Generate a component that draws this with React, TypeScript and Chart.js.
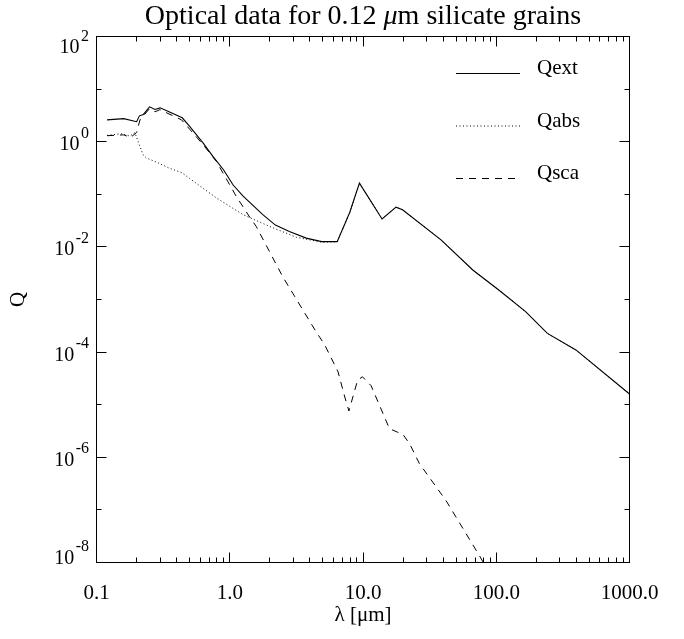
import React, { useEffect, useRef } from 'react';
import { Chart, registerables } from 'chart.js';

Chart.register(...registerables);

// ---------- data ----------
const titleParts = ['Optical data for 0.12 ', '\u03bc', 'm silicate grains'];
const titleItalic = [false, true, false];
const xAxisTitle = '\u03bb [\u03bcm]';
const yAxisTitle = 'Q';

const qextLambda = [0.12, 0.16, 0.2, 0.21, 0.225, 0.25, 0.275, 0.3, 0.35, 0.44, 0.5, 0.63, 0.75, 0.9, 1.06, 1.26, 1.77, 2.2, 2.8, 3.75, 4.9, 6.4, 7.95, 9.4, 13.9, 17.7, 19.8, 38.5, 67, 105, 166, 242, 396, 1000];
const qextValues = [2.6, 2.75, 2.4, 3.1, 3.3, 4.6, 4.1, 4.4, 3.7, 2.85, 1.96, 0.95, 0.52, 0.29, 0.15, 0.092, 0.041, 0.026, 0.0196, 0.0147, 0.0126, 0.0126, 0.045, 0.163, 0.034, 0.057, 0.0507, 0.0136, 0.0036, 0.0015, 5.9e-4, 2.27e-4, 1.1e-4, 1.6e-5];

const qabsLambda = [0.12, 0.154, 0.178, 0.194, 0.224, 0.237, 0.282, 0.355, 0.435, 0.5, 0.795, 1.26, 1.99, 3.17, 4.9, 6.4, 7.95, 9.4, 13.9, 17.7, 19.8, 38.5, 67, 105, 166, 242, 396, 1000];
const qabsValues = [1.32, 1.42, 1.28, 1.48, 0.56, 0.49, 0.41, 0.31, 0.26, 0.2, 0.085, 0.041, 0.0245, 0.0152, 0.0123, 0.0125, 0.045, 0.163, 0.034, 0.057, 0.0507, 0.0136, 0.0036, 0.0015, 5.9e-4, 2.27e-4, 1.1e-4, 1.6e-5];

const qscaLambda = [0.12, 0.16, 0.18, 0.2, 0.212, 0.249, 0.275, 0.299, 0.435, 0.63, 0.795, 1.12, 1.41, 1.58, 2.5, 4.46, 5.14, 6.5, 7.3, 7.84, 9.1, 9.9, 11.5, 15.8, 18.2, 19.8, 22.4, 26.5, 42, 74.6, 90];
const qscaValues = [1.3, 1.35, 1.2, 1.5, 2.6, 4.2, 3.7, 4.07, 2.6, 0.88, 0.42, 0.091, 0.037, 0.0245, 0.0027, 2.4e-4, 1.4e-4, 4.2e-5, 1.4e-5, 7.6e-6, 2.9e-5, 3.4e-5, 2.3e-5, 3.5e-6, 3.0e-6, 2.8e-6, 1.8e-6, 7.6e-7, 1.5e-7, 1.36e-8, 6e-9];

const seriesLabels = ['Qext', 'Qabs', 'Qsca'];

const xTickValues = [0.1, 1, 10, 100, 1000];
const xTickLabels = ['0.1', '1.0', '10.0', '100.0', '1000.0'];
const yTickExponents = [2, 0, -2, -4, -6, -8];
const yTickLabelBase = '10';

const SERIF = '"Liberation Serif", "Times New Roman", serif';

function toPoints(xs: number[], ys: number[]) {
  return xs.map((x, i) => ({ x, y: ys[i] }));
}

const framePlugin = {
  id: 'idlFrame',
  afterDatasetsDraw(chart: any) {
    const { ctx, chartArea: a, scales } = chart;
    const xs = scales.x;
    const ys = scales.y;
    ctx.save();
    ctx.strokeStyle = '#000';
    ctx.lineWidth = 1;
    ctx.setLineDash([]);
    ctx.strokeRect(a.left, a.top, a.right - a.left, a.bottom - a.top);

    ctx.beginPath();
    // x ticks (inward, top and bottom)
    for (let d = -1; d <= 3; d++) {
      for (let m = 1; m <= 9; m++) {
        const v = m * Math.pow(10, d);
        if (v < 0.1 - 1e-9 || v > 1000 + 1e-6) continue;
        const px = Math.round(xs.getPixelForValue(v) - 0.5) + 0.5;
        const len = m === 1 ? 10 : 5;
        ctx.moveTo(px, a.bottom);
        ctx.lineTo(px, a.bottom - len);
        ctx.moveTo(px, a.top);
        ctx.lineTo(px, a.top + len);
      }
    }
    // y ticks (inward, left and right)
    for (let e = -8; e <= 2; e++) {
      const py = Math.round(ys.getPixelForValue(Math.pow(10, e)) - 0.5) + 0.5;
      const len = e % 2 === 0 ? 10 : 5;
      ctx.moveTo(a.left, py);
      ctx.lineTo(a.left + len, py);
      ctx.moveTo(a.right, py);
      ctx.lineTo(a.right - len, py);
    }
    ctx.stroke();

    ctx.fillStyle = '#000';
    ctx.textAlign = 'left';

    // title (upright text with an italic mu), centred over the plot
    ctx.textBaseline = 'middle';
    const fonts = titleItalic.map((it) => `${it ? 'italic ' : ''}28px ${SERIF}`);
    const widths = titleParts.map((t, i) => {
      ctx.font = fonts[i];
      return ctx.measureText(t).width;
    });
    const total = widths.reduce((s, w) => s + w, 0);
    let tx = (a.left + a.right) / 2 - total / 2;
    titleParts.forEach((t, i) => {
      ctx.font = fonts[i];
      ctx.fillText(t, tx, 16.8);
      tx += widths[i];
    });

    // y tick labels with superscript exponents
    ctx.textBaseline = 'alphabetic';
    const rightEdge = a.left - 7.5;
    yTickExponents.forEach((e) => {
      const py = ys.getPixelForValue(Math.pow(10, e));
      let base = py + 8.5;
      base = Math.max(base, a.top + 16.5);
      base = Math.min(base, a.bottom + 1);
      const expText = String(e);
      ctx.font = `16px ${SERIF}`;
      const ew = ctx.measureText(expText).width;
      ctx.fillText(expText, rightEdge - ew, base - 12.5);
      ctx.font = `20px ${SERIF}`;
      const bw = ctx.measureText(yTickLabelBase).width;
      ctx.fillText(yTickLabelBase, rightEdge - ew - 1.5 - bw, base);
    });

    // legend inside the plot, top-right
    chart.data.datasets.forEach((ds: any, i: number) => {
      const ly = 73.5 + i * 52.5;
      ctx.beginPath();
      ctx.lineWidth = ds.borderWidth;
      ctx.setLineDash(ds.borderDash || []);
      ctx.moveTo(456, ly);
      ctx.lineTo(520, ly);
      ctx.stroke();
      ctx.setLineDash([]);
      ctx.font = `21px ${SERIF}`;
      ctx.fillText(ds.label, 537, ly + 0.5);
    });
    ctx.restore();
  },
};

export default function App() {
  const canvasRef = useRef<HTMLCanvasElement | null>(null);

  useEffect(() => {
    if (!canvasRef.current) return;
    const chart = new Chart(canvasRef.current, {
      type: 'line',
      data: {
        datasets: [
          {
            label: seriesLabels[0],
            data: toPoints(qextLambda, qextValues),
            borderColor: '#000',
            borderWidth: 1.1,
            borderDash: [],
            pointRadius: 0,
            tension: 0,
          },
          {
            label: seriesLabels[1],
            data: toPoints(qabsLambda, qabsValues),
            borderColor: '#000',
            borderWidth: 1,
            borderDash: [1, 2.5],
            pointRadius: 0,
            tension: 0,
          },
          {
            label: seriesLabels[2],
            data: toPoints(qscaLambda, qscaValues),
            borderColor: '#000',
            borderWidth: 1,
            borderDash: [7, 6],
            pointRadius: 0,
            tension: 0,
          },
        ],
      },
      options: {
        responsive: false,
        animation: false,
        devicePixelRatio: 1,
        layout: { padding: { left: 0, right: 54.5, top: 36.5, bottom: 11 } },
        plugins: {
          legend: { display: false },
          tooltip: { enabled: false },
          title: { display: false },
        },
        scales: {
          x: {
            type: 'logarithmic',
            min: 0.1,
            max: 1000,
            grid: { display: false, drawTicks: false },
            border: { display: false },
            afterBuildTicks: (scale: any) => {
              scale.ticks = xTickValues.map((v) => ({ value: v }));
            },
            afterFit: (scale: any) => {
              scale.height = 65.5;
            },
            ticks: {
              autoSkip: false,
              maxRotation: 0,
              minRotation: 0,
              padding: 18.5,
              color: '#000',
              font: { family: SERIF, size: 21 },
              callback: (value: any) => {
                const idx = xTickValues.findIndex((v) => Math.abs(v - Number(value)) < 1e-9 * Math.max(1, v));
                return idx >= 0 ? xTickLabels[idx] : '';
              },
            },
            title: {
              display: true,
              text: xAxisTitle,
              color: '#000',
              font: { family: SERIF, size: 21 },
              padding: { top: 0, bottom: 0 },
            },
          },
          y: {
            type: 'logarithmic',
            min: 1e-8,
            max: 100,
            grid: { display: false, drawTicks: false },
            border: { display: false },
            afterBuildTicks: (scale: any) => {
              scale.ticks = yTickExponents.map((e) => ({ value: Math.pow(10, e) }));
            },
            afterFit: (scale: any) => {
              scale.width = 96.5;
            },
            ticks: { display: false },
            title: {
              display: true,
              text: yAxisTitle,
              color: '#000',
              font: { family: SERIF, size: 21 },
              padding: { top: 6, bottom: 0 },
            },
          },
        },
      },
      plugins: [framePlugin],
    } as any);
    return () => chart.destroy();
  }, []);

  return (
    <div style={{ position: 'fixed', left: 0, top: 0, width: 684, height: 639, background: '#fff' }}>
      <canvas ref={canvasRef} width={684} height={639} style={{ display: 'block' }} />
    </div>
  );
}
